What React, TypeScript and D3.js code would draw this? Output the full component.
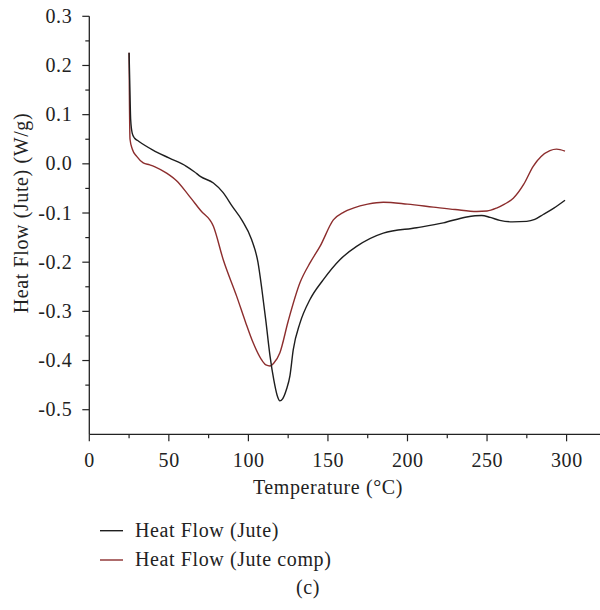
import React, { useEffect, useRef } from "react";
import * as d3 from "d3";

// DSC curves: temperature (°C) and heat flow (W/g)
const juteTemp = [25, 25.4, 26, 27, 28.5, 31, 40, 50, 61, 66, 70, 78, 84, 90, 96, 102, 106, 108.5, 111, 113.6, 116, 118, 119.8, 121.5, 124, 126.1, 128.2, 132.4, 138.7, 147, 157.5, 168, 184.8, 205.8, 222.5, 237.2, 246.6, 252, 258, 266, 274.9, 280, 285.3, 292, 299];
const juteFlow = [0.226, 0.17, 0.09, 0.062, 0.052, 0.046, 0.028, 0.012, -0.005, -0.016, -0.026, -0.039, -0.058, -0.087, -0.115, -0.154, -0.2, -0.256, -0.32, -0.391, -0.44, -0.47, -0.482, -0.478, -0.458, -0.431, -0.378, -0.324, -0.276, -0.236, -0.195, -0.168, -0.141, -0.13, -0.12, -0.108, -0.105, -0.109, -0.115, -0.118, -0.117, -0.113, -0.103, -0.09, -0.074];

const compTemp = [25, 25.2, 25.6, 27, 29.8, 33.9, 38, 41.3, 48.6, 55, 62, 70, 78, 84.2, 92.6, 98, 103, 108, 111, 113.6, 116, 119.8, 125, 132.4, 139, 145, 153.4, 160, 165.9, 175, 184.8, 200, 216.2, 230, 243.5, 250, 256, 261, 266.5, 273, 279, 284, 289.5, 293.7, 299];
const compFlow = [0.226, 0.14, 0.05, 0.03, 0.015, 0.002, -0.002, -0.006, -0.019, -0.035, -0.062, -0.095, -0.127, -0.195, -0.269, -0.32, -0.364, -0.397, -0.409, -0.411, -0.405, -0.384, -0.32, -0.242, -0.2, -0.168, -0.114, -0.098, -0.09, -0.082, -0.078, -0.082, -0.088, -0.093, -0.097, -0.096, -0.09, -0.082, -0.07, -0.042, -0.005, 0.015, 0.027, 0.03, 0.026];

const xTicks = [0, 50, 100, 150, 200, 250, 300];
const xMinor = [25, 75, 125, 175, 225, 275];
const yTicks = [-0.5, -0.4, -0.3, -0.2, -0.1, 0, 0.1, 0.2, 0.3];
const yMinor = [-0.45, -0.35, -0.25, -0.15, -0.05, 0.05, 0.15, 0.25];
const legendLabels = ["Heat Flow (Jute)", "Heat Flow (Jute comp)"];
const seriesColors = ["#1e1e1e", "#8c2d2d"];

export default function App() {
  const ref = useRef<SVGSVGElement>(null);

  useEffect(() => {
    const svg = d3.select(ref.current);
    svg.selectAll("*").remove();

    const font = "'Liberation Serif', 'Times New Roman', serif";
    const fs = 20;
    const ls = "0.6px";
    const x = d3.scaleLinear().domain([0, 321]).range([89.3, 600]);
    const y = d3.scaleLinear().domain([-0.55, 0.3]).range([434.3, 16.3]);
    const x0 = x(0);
    const yBase = y(-0.55);

    const label = (sel: any) =>
      sel.style("font-family", font).style("font-size", fs)
        .style("letter-spacing", ls).attr("fill", "#222");

    // axis lines
    svg.append("line").attr("x1", x0).attr("x2", x0).attr("y1", y(0.3)).attr("y2", yBase)
      .attr("stroke", "#222").attr("stroke-width", 1.3);
    svg.append("line").attr("x1", x0).attr("x2", 600).attr("y1", yBase).attr("y2", yBase)
      .attr("stroke", "#222").attr("stroke-width", 1.3);

    // x ticks
    svg.selectAll("line.xt").data(xTicks).enter().append("line")
      .attr("x1", (d) => x(d)).attr("x2", (d) => x(d))
      .attr("y1", yBase).attr("y2", yBase + 7)
      .attr("stroke", "#222").attr("stroke-width", 1.2);
    svg.selectAll("line.xm").data(xMinor).enter().append("line")
      .attr("x1", (d) => x(d)).attr("x2", (d) => x(d))
      .attr("y1", yBase).attr("y2", yBase + 4)
      .attr("stroke", "#222").attr("stroke-width", 1.2);
    svg.selectAll("text.xl").data(xTicks).enter().append("text")
      .attr("x", (d) => x(d) + 0.3).attr("y", yBase + 32.5)
      .attr("text-anchor", "middle")
      .call(label)
      .text((d) => String(d));

    // y ticks
    svg.selectAll("line.yt").data(yTicks).enter().append("line")
      .attr("x1", x0 - 7).attr("x2", x0)
      .attr("y1", (d) => y(d)).attr("y2", (d) => y(d))
      .attr("stroke", "#222").attr("stroke-width", 1.2);
    svg.selectAll("line.ym").data(yMinor).enter().append("line")
      .attr("x1", x0 - 4).attr("x2", x0)
      .attr("y1", (d) => y(d)).attr("y2", (d) => y(d))
      .attr("stroke", "#222").attr("stroke-width", 1.2);
    svg.selectAll("text.yl").data(yTicks).enter().append("text")
      .attr("x", x0 - 17).attr("y", (d) => y(d) + 6.5)
      .attr("text-anchor", "end")
      .call(label)
      .text((d) => d.toFixed(1));

    // axis titles
    svg.append("text")
      .attr("x", (x(0) + x(300)) / 2).attr("y", 493.5)
      .attr("text-anchor", "middle")
      .call(label)
      .text("Temperature (°C)");
    svg.append("text")
      .attr("transform", "translate(28,213) rotate(-90)")
      .attr("text-anchor", "middle")
      .call(label)
      .text("Heat Flow (Jute) (W/g)");

    // curves
    const line = d3.line<[number, number]>()
      .x((d) => x(d[0]))
      .y((d) => y(d[1]))
      .curve(d3.curveMonotoneX);
    const series: [number, number][][] = [
      juteTemp.map((t, i) => [t, juteFlow[i]]),
      compTemp.map((t, i) => [t, compFlow[i]]),
    ];
    // comp first so the black curve sits on top
    [1, 0].forEach((i) => {
      svg.append("path")
        .attr("d", line(series[i]))
        .attr("fill", "none")
        .attr("stroke", seriesColors[i])
        .attr("stroke-width", 1.4)
        .attr("stroke-linejoin", "round");
    });

    // legend
    const leg = svg.append("g");
    legendLabels.forEach((name, i) => {
      const ly = 530.7 + i * 29.3;
      leg.append("line").attr("x1", 100).attr("x2", 123).attr("y1", ly).attr("y2", ly)
        .attr("stroke", seriesColors[i]).attr("stroke-width", 1.4);
      leg.append("text").attr("x", 135).attr("y", ly + 6)
        .call(label)
        .text(name);
    });

    svg.append("text")
      .attr("x", 308).attr("y", 594)
      .attr("text-anchor", "middle")
      .call(label)
      .text("(c)");
  }, []);

  return (
    <svg
      ref={ref}
      width={600}
      height={610}
      style={{ position: "absolute", left: 0, top: 0, background: "#fff" }}
    />
  );
}
